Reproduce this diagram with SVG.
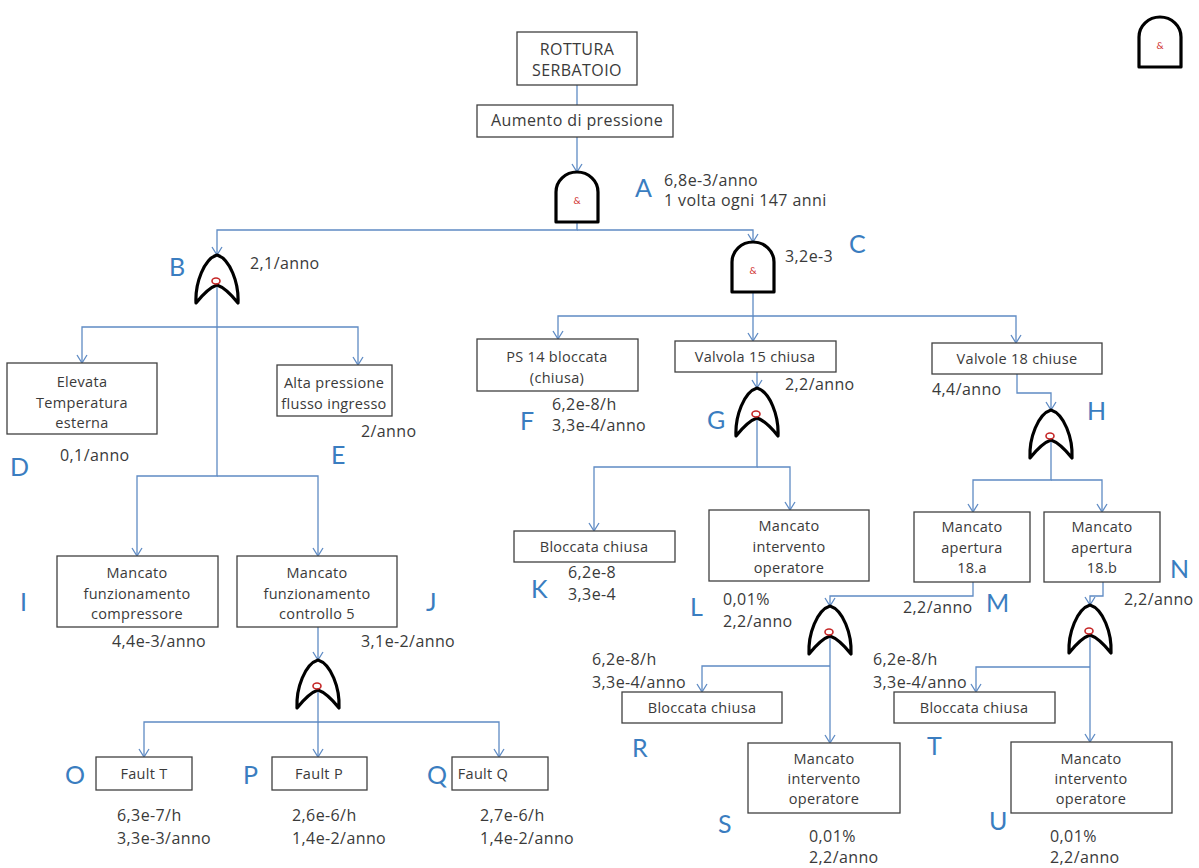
<svg xmlns="http://www.w3.org/2000/svg" xmlns:xlink="http://www.w3.org/1999/xlink" width="1199" height="868" viewBox="0 0 1199 868">
  <style>
    .box { fill: #ffffff; stroke: #404040; stroke-width: 1.3; }
    .t { font-family: "Open Sans", Lato, sans-serif; font-size: 16px; letter-spacing: 0.4px; fill: #3a3a3a; }
    .bt { font-size: 14.5px; letter-spacing: 0.3px; }
    .c { text-anchor: middle; }
    .lbl { font-family: Lato, "Open Sans", sans-serif; font-size: 25px; fill: #3a7dc0; }
    .wire { fill: none; stroke: #5f8bc4; stroke-width: 1.3; }
    .arr { marker-end: url(#head); }
    .gate { fill: #ffffff; stroke: #000000; stroke-width: 3.2; stroke-linejoin: round; }
    .amp { font-family: Lato, "Open Sans", sans-serif; font-size: 10px; fill: #d03030; text-anchor: middle; }
    .ring { fill: none; stroke: #c62828; stroke-width: 1.6; }
  </style>
  <defs>
    <!-- open chevron head, drawn pointing along +x -->
    <marker id="head" viewBox="0 0 12 12" refX="11" refY="6" markerWidth="12" markerHeight="12" markerUnits="userSpaceOnUse" orient="auto">
      <path d="M3,1 L11,6 L3,11" fill="none" stroke="#5f8bc4" stroke-width="1.3"/>
    </marker>
    <!-- AND gate: origin at top centre, 42 wide, 50 high -->
    <g id="andGate">
      <path class="gate" d="M-21,50 L-21,20 A21,20 0 0 1 21,20 L21,50 Z"/>
      <text class="amp" x="0" y="32">&amp;</text>
    </g>
    <!-- OR gate: origin at top point, 42 wide, 48 high -->
    <g id="orGate">
      <path class="gate" d="M0,0 C-13,4 -22,28 -21,48 Q-9,33 0,30 Q9,33 21,48 C22,28 13,4 0,0 Z"/>
      <ellipse class="ring" cx="-1" cy="26" rx="4" ry="3"/>
    </g>
  </defs>

  <rect width="1199" height="868" fill="#ffffff"/>

  <!-- connectors -->
  <g id="connectors">
    <path class="wire" d="M577,85 V105"/>
    <path class="wire arr" d="M577,137 V172"/>
    <path class="wire arr" d="M577,222 V230 H217 V255"/>
    <path class="wire arr" d="M577,230 H753 V242"/>
    <path class="wire arr" d="M217,327 H82 V363"/>
    <path class="wire arr" d="M217,327 H358 V365"/>
    <path class="wire arr" d="M217,287 V476 H137 V556"/>
    <path class="wire arr" d="M217,476 H318 V556"/>
    <path class="wire arr" d="M318,627 V660"/>
    <path class="wire arr" d="M318,689 V722 H144 V757"/>
    <path class="wire arr" d="M318,722 V757"/>
    <path class="wire arr" d="M318,722 H499 V757"/>
    <path class="wire arr" d="M753,291 V316 H558 V339"/>
    <path class="wire arr" d="M753,316 V341"/>
    <path class="wire arr" d="M753,316 H1016 V343"/>
    <path class="wire arr" d="M757,372 V388"/>
    <path class="wire arr" d="M757,417 V467 H594 V531"/>
    <path class="wire arr" d="M757,467 H790 V510"/>
    <path class="wire arr" d="M1017,374 V393 H1051 V410"/>
    <path class="wire arr" d="M1051,439 V480 H973 V512"/>
    <path class="wire arr" d="M1051,480 H1102 V512"/>
    <path class="wire arr" d="M973,582 V596 H830 V606"/>
    <path class="wire arr" d="M830,635 V743"/>
    <path class="wire arr" d="M830,666 H702 V692"/>
    <path class="wire arr" d="M1103,582 V596 H1090 V605"/>
    <path class="wire arr" d="M1090,634 V742"/>
    <path class="wire arr" d="M1090,667 H976 V692"/>
  </g>

  <!-- top event -->
  <g id="top">
    <rect class="box" x="517" y="32" width="120" height="53"/>
    <text class="t c" x="577" y="55">ROTTURA</text>
    <text class="t c" x="577" y="76">SERBATOIO</text>
  </g>
  <g id="aumento">
    <rect class="box" x="477" y="105" width="196" height="32"/>
    <text class="t c" x="577" y="126">Aumento di pressione</text>
  </g>

  <!-- gates -->
  <g id="gateA">
    <use xlink:href="#andGate" x="577" y="172"/>
    <text class="lbl" x="635" y="197">A</text>
    <text class="t" x="664" y="186">6,8e-3/anno</text>
    <text class="t" x="664" y="206">1 volta ogni 147 anni</text>
  </g>
  <g id="gateB">
    <use xlink:href="#orGate" x="217" y="255"/>
    <text class="lbl" x="169" y="276">B</text>
    <text class="t" x="250" y="269">2,1/anno</text>
  </g>
  <g id="gateC">
    <use xlink:href="#andGate" x="753" y="242"/>
    <text class="lbl" x="849" y="253">C</text>
    <text class="t" x="785" y="262">3,2e-3</text>
  </g>
  <g id="gateJ">
    <use xlink:href="#orGate" x="318" y="660"/>
  </g>
  <g id="gateG">
    <use xlink:href="#orGate" x="757" y="388"/>
    <text class="lbl" x="707" y="429">G</text>
    <text class="t" x="785" y="390">2,2/anno</text>
  </g>
  <g id="gateH">
    <use xlink:href="#orGate" x="1051" y="410"/>
    <text class="lbl" x="1087" y="420">H</text>
  </g>
  <g id="gateM">
    <use xlink:href="#orGate" x="830" y="606"/>
  </g>
  <g id="gateN">
    <use xlink:href="#orGate" x="1090" y="605"/>
  </g>
  <g id="legendAnd">
    <use xlink:href="#andGate" x="1160" y="17"/>
  </g>

  <!-- events -->
  <g id="nodeD">
    <rect class="box" x="7" y="363" width="150" height="71"/>
    <text class="t bt c" x="82" y="387">Elevata</text>
    <text class="t bt c" x="82" y="408">Temperatura</text>
    <text class="t bt c" x="82" y="428">esterna</text>
    <text class="t" x="60" y="461">0,1/anno</text>
    <text class="lbl" x="10" y="476">D</text>
  </g>
  <g id="nodeE">
    <rect class="box" x="277" y="365" width="115" height="51"/>
    <text class="t bt c" x="334" y="388">Alta pressione</text>
    <text class="t bt c" x="334" y="409">flusso ingresso</text>
    <text class="t" x="361" y="437">2/anno</text>
    <text class="lbl" x="331" y="464">E</text>
  </g>
  <g id="nodeI">
    <rect class="box" x="57" y="556" width="161" height="71"/>
    <text class="t bt c" x="137" y="578">Mancato</text>
    <text class="t bt c" x="137" y="599">funzionamento</text>
    <text class="t bt c" x="137" y="619">compressore</text>
    <text class="t" x="112" y="647">4,4e-3/anno</text>
    <text class="lbl" x="20" y="611">I</text>
  </g>
  <g id="nodeJ">
    <rect class="box" x="237" y="556" width="160" height="71"/>
    <text class="t bt c" x="317" y="578">Mancato</text>
    <text class="t bt c" x="317" y="599">funzionamento</text>
    <text class="t bt c" x="317" y="619">controllo 5</text>
    <text class="t" x="361" y="647">3,1e-2/anno</text>
    <text class="lbl" x="426" y="611">J</text>
  </g>
  <g id="nodeO">
    <rect class="box" x="96" y="757" width="96" height="33"/>
    <text class="t bt c" x="144" y="779">Fault T</text>
    <text class="lbl" x="65" y="784">O</text>
    <text class="t" x="117" y="821">6,3e-7/h</text>
    <text class="t" x="117" y="844">3,3e-3/anno</text>
  </g>
  <g id="nodeP">
    <rect class="box" x="272" y="757" width="95" height="33"/>
    <text class="t bt c" x="319" y="779">Fault P</text>
    <text class="lbl" x="243" y="784">P</text>
    <text class="t" x="292" y="821">2,6e-6/h</text>
    <text class="t" x="292" y="844">1,4e-2/anno</text>
  </g>
  <g id="nodeQ">
    <rect class="box" x="452" y="757" width="96" height="33"/>
    <text class="t bt c" x="483" y="779">Fault Q</text>
    <text class="lbl" x="427" y="784">Q</text>
    <text class="t" x="480" y="821">2,7e-6/h</text>
    <text class="t" x="480" y="844">1,4e-2/anno</text>
  </g>
  <g id="nodeF">
    <rect class="box" x="477" y="339" width="161" height="52"/>
    <text class="t bt c" x="557" y="362">PS 14 bloccata</text>
    <text class="t bt c" x="557" y="383">(chiusa)</text>
    <text class="t" x="552" y="410">6,2e-8/h</text>
    <text class="t" x="552" y="431">3,3e-4/anno</text>
    <text class="lbl" x="520" y="430">F</text>
  </g>
  <g id="nodeValvola15">
    <rect class="box" x="675" y="341" width="161" height="31"/>
    <text class="t bt c" x="755" y="362">Valvola 15 chiusa</text>
  </g>
  <g id="nodeValvole18">
    <rect class="box" x="932" y="343" width="170" height="31"/>
    <text class="t bt c" x="1017" y="364">Valvole 18 chiuse</text>
    <text class="t" x="932" y="395">4,4/anno</text>
  </g>
  <g id="nodeK">
    <rect class="box" x="514" y="531" width="161" height="31"/>
    <text class="t bt c" x="594" y="552">Bloccata chiusa</text>
    <text class="t" x="568" y="578">6,2e-8</text>
    <text class="t" x="568" y="600">3,3e-4</text>
    <text class="lbl" x="531" y="598">K</text>
  </g>
  <g id="nodeL">
    <rect class="box" x="709" y="510" width="160" height="71"/>
    <text class="t bt c" x="789" y="531">Mancato</text>
    <text class="t bt c" x="789" y="552">intervento</text>
    <text class="t bt c" x="789" y="573">operatore</text>
    <text class="t" x="723" y="605">0,01%</text>
    <text class="t" x="723" y="627">2,2/anno</text>
    <text class="lbl" x="690" y="616">L</text>
  </g>
  <g id="nodeM">
    <rect class="box" x="914" y="512" width="116" height="70"/>
    <text class="t bt c" x="972" y="532">Mancato</text>
    <text class="t bt c" x="972" y="553">apertura</text>
    <text class="t bt c" x="972" y="573">18.a</text>
    <text class="t" x="903" y="613">2,2/anno</text>
    <text class="lbl" x="986" y="612">M</text>
  </g>
  <g id="nodeN">
    <rect class="box" x="1044" y="512" width="116" height="70"/>
    <text class="t bt c" x="1102" y="532">Mancato</text>
    <text class="t bt c" x="1102" y="553">apertura</text>
    <text class="t bt c" x="1102" y="573">18.b</text>
    <text class="t" x="1124" y="605">2,2/anno</text>
    <text class="lbl" x="1170" y="578">N</text>
  </g>
  <g id="nodeR">
    <rect class="box" x="622" y="692" width="160" height="31"/>
    <text class="t bt c" x="702" y="713">Bloccata chiusa</text>
    <text class="t" x="592" y="665">6,2e-8/h</text>
    <text class="t" x="592" y="688">3,3e-4/anno</text>
    <text class="lbl" x="632" y="757">R</text>
  </g>
  <g id="nodeS">
    <rect class="box" x="748" y="743" width="152" height="70"/>
    <text class="t bt c" x="824" y="764">Mancato</text>
    <text class="t bt c" x="824" y="784">intervento</text>
    <text class="t bt c" x="824" y="804">operatore</text>
    <text class="t" x="809" y="842">0,01%</text>
    <text class="t" x="809" y="863">2,2/anno</text>
    <text class="lbl" x="718" y="833">S</text>
  </g>
  <g id="nodeT">
    <rect class="box" x="894" y="692" width="161" height="31"/>
    <text class="t bt c" x="974" y="713">Bloccata chiusa</text>
    <text class="t" x="873" y="665">6,2e-8/h</text>
    <text class="t" x="873" y="688">3,3e-4/anno</text>
    <text class="lbl" x="927" y="755">T</text>
  </g>
  <g id="nodeU">
    <rect class="box" x="1011" y="742" width="161" height="71"/>
    <text class="t bt c" x="1091" y="764">Mancato</text>
    <text class="t bt c" x="1091" y="784">intervento</text>
    <text class="t bt c" x="1091" y="804">operatore</text>
    <text class="t" x="1050" y="842">0,01%</text>
    <text class="t" x="1050" y="863">2,2/anno</text>
    <text class="lbl" x="989" y="830">U</text>
  </g>
</svg>
